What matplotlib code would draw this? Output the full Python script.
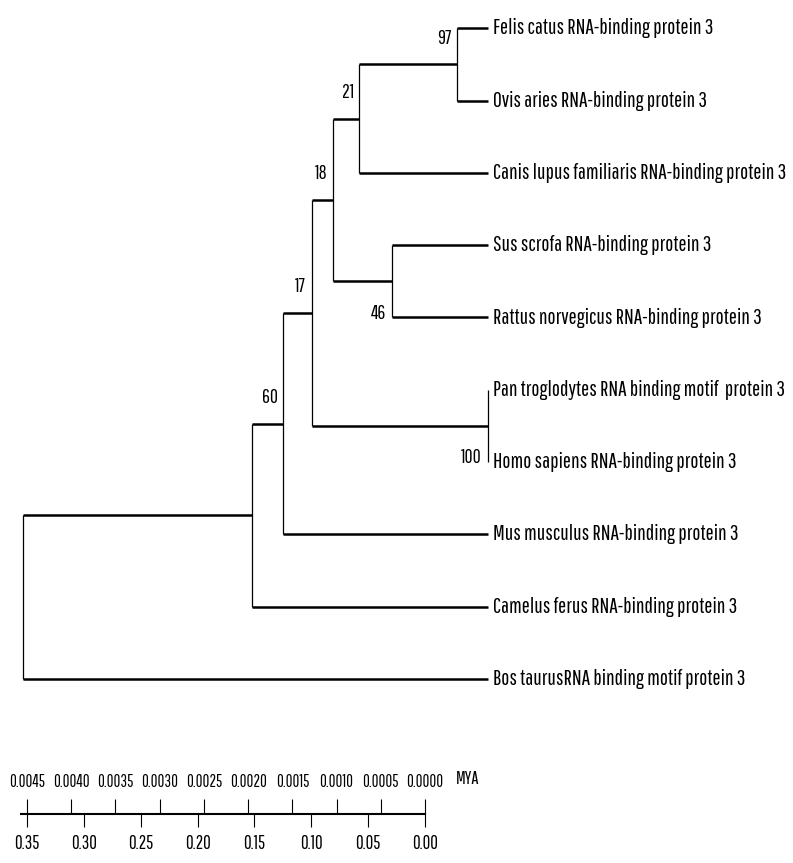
import matplotlib
matplotlib.use("Agg")
import matplotlib.pyplot as plt

plt.rcParams['font.family'] = ['Pathway Gothic One', 'Archivo Narrow', 'Liberation Sans']

# tips, top to bottom
tips = ["Felis catus RNA-binding protein 3",
        "Ovis aries RNA-binding protein 3",
        "Canis lupus familiaris RNA-binding protein 3",
        "Sus scrofa RNA-binding protein 3",
        "Rattus norvegicus RNA-binding protein 3",
        "Pan troglodytes RNA binding motif  protein 3",
        "Homo sapiens RNA-binding protein 3",
        "Mus musculus RNA-binding protein 3",
        "Camelus ferus RNA-binding protein 3",
        "Bos taurusRNA binding motif protein 3"]

# internal nodes: name, children, height (distance from tips), bootstrap
node_names = ["n97", "n46", "n100", "n21", "n18", "n17", "n60", "nCam", "root"]
node_children = [(0, 1), (3, 4), (5, 6), ("n97", 2), ("n21", "n46"),
                 ("n18", "n100"), ("n17", 7), ("n60", 8), ("nCam", 9)]
node_heights = [0.0268, 0.0842, 0.0, 0.1127, 0.1355, 0.1546, 0.1795, 0.2073, 0.4082]
node_support = ["97", "46", "100", "21", "18", "17", "60", "", ""]
support_below = ["n46", "n100"]

dist_ticks = [0.35, 0.30, 0.25, 0.20, 0.15, 0.10, 0.05, 0.00]
mya_ticks = [0.0045, 0.0040, 0.0035, 0.0030, 0.0025, 0.0020, 0.0015, 0.0010, 0.0005, 0.0000]
mya_per_dist = 0.0045 / 0.35

W, H = 793, 863
fig = plt.figure(figsize=(W / 100, H / 100), dpi=100)

# tree axes: whole figure, x = distance from tips (reversed), y = tip index
ax = fig.add_axes([0, 0, 1, 1])
px_per_unit = 1137.0
tip_px = 487.5
ax.set_xlim(tip_px / px_per_unit, -(W - tip_px) / px_per_unit)
y0, dy = 28.3, 72.3
ax.set_ylim((H - y0) / dy, -y0 / dy)
ax.axis("off")

pos = {}
for i, t in enumerate(tips):
    pos[i] = (0.0, float(i))

hw = 1.8   # horizontal branch width
vw = 0.9   # vertical line width
for name, ch, h, sup in zip(node_names, node_children, node_heights, node_support):
    ys = []
    for c in ch:
        cx, cy = pos[c]
        ax.plot([h, cx], [cy, cy], color="black", lw=hw, solid_capstyle="butt")
        ys.append(cy)
    ax.plot([h, h], [min(ys), max(ys)], color="black", lw=vw, solid_capstyle="butt")
    ny = sum(ys) / len(ys)
    pos[name] = (h, ny)
    if sup:
        off = -23 if name in support_below else 19
        ax.annotate(sup, xy=(h, ny), xytext=(-4, off), textcoords="offset points",
                    ha="right", va="center", fontsize=14)

for i, t in enumerate(tips):
    ax.annotate(t, xy=(0.0, i), xytext=(4, 0), textcoords="offset points",
                ha="left", va="center", fontsize=15.6)

# scale bar
left_px, right_px, bar_y = 21, 425, 814
sa = fig.add_axes([left_px / W, (H - bar_y) / H, (right_px - left_px) / W, 0.0001])
sa.set_xlim((right_px - left_px) / px_per_unit, 0)
sa.set_ylim(0, 1)
for s in ["top", "left", "right"]:
    sa.spines[s].set_visible(False)
sa.spines["bottom"].set_linewidth(1.5)
sa.set_yticks([])
sa.set_xticks(dist_ticks)
sa.set_xticklabels(["%.2f" % v for v in dist_ticks])
sa.tick_params(axis="x", direction="out", length=9.4, width=0.8, pad=5, labelsize=13.5)
sa.patch.set_visible(False)

top = sa.secondary_xaxis("top", functions=(lambda d: d * mya_per_dist, lambda m: m / mya_per_dist))
top.spines["top"].set_visible(False)
top.set_xticks(mya_ticks)
top.set_xticklabels(["%.4f" % v for v in mya_ticks])
top.tick_params(axis="x", direction="out", length=10.8, width=0.8, pad=6.5, labelsize=12)
sa.annotate("MYA", xy=(0, 1), xycoords=("data", "axes fraction"), xytext=(31, 25),
            textcoords="offset points", ha="center", va="center", fontsize=13)

fig.savefig("out.png", dpi=100)
